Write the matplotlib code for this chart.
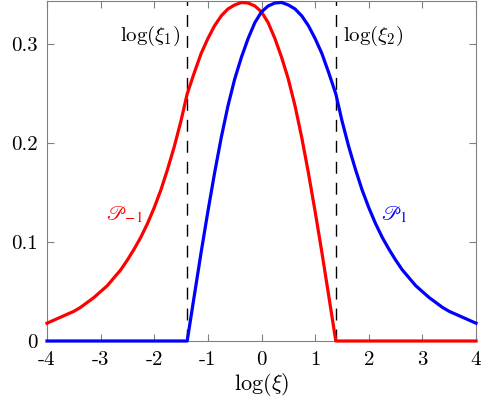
import numpy as np
import matplotlib
matplotlib.use("Agg")
import matplotlib.pyplot as plt

plt.rcParams['font.family'] = 'cmr10'
plt.rcParams['mathtext.fontset'] = 'cm'
plt.rcParams['axes.unicode_minus'] = False
plt.rcParams['axes.formatter.use_mathtext'] = True

# values
x_red = [-4.0, -3.875, -3.75, -3.625, -3.5, -3.375, -3.25, -3.125, -3.0, -2.875,
         -2.75, -2.625, -2.5, -2.375, -2.25, -2.125, -2.0, -1.875, -1.75, -1.625,
         -1.5, -1.386, -1.25, -1.125, -1.0, -0.875, -0.75, -0.625, -0.5, -0.375,
         -0.25, -0.125, 0.0, 0.125, 0.25, 0.375, 0.5, 0.625, 0.75, 0.875, 1.0,
         1.125, 1.25, 1.386, 2.0, 3.0, 4.0]
y_red = [0.018, 0.021, 0.024, 0.027, 0.030, 0.034, 0.039, 0.044, 0.050, 0.056,
         0.064, 0.072, 0.082, 0.093, 0.105, 0.119, 0.135, 0.153, 0.174, 0.197,
         0.223, 0.250, 0.272, 0.291, 0.306, 0.319, 0.329, 0.336, 0.340, 0.3425,
         0.342, 0.339, 0.333, 0.322, 0.306, 0.287, 0.265, 0.238, 0.206, 0.170, 0.131,
         0.090, 0.047, 0.0, 0.0, 0.0, 0.0]

x_blue = [-4.0, -3.0, -2.0, -1.386, -1.25, -1.125, -1.0, -0.875, -0.75, -0.625,
          -0.5, -0.375, -0.25, -0.125, 0.0, 0.125, 0.25, 0.375, 0.5, 0.625, 0.75,
          0.875, 1.0, 1.125, 1.25, 1.386, 1.5, 1.625, 1.75, 1.875, 2.0, 2.125,
          2.25, 2.375, 2.5, 2.625, 2.75, 2.875, 3.0, 3.125, 3.25, 3.375, 3.5,
          3.625, 3.75, 3.875, 4.0]
y_blue = [0.0, 0.0, 0.0, 0.0, 0.047, 0.090, 0.131, 0.170, 0.206, 0.238,
          0.265, 0.287, 0.306, 0.322, 0.333, 0.339, 0.342, 0.3425, 0.340, 0.336, 0.329,
          0.319, 0.306, 0.291, 0.272, 0.250, 0.223, 0.197, 0.174, 0.153, 0.135, 0.119,
          0.105, 0.093, 0.082, 0.072, 0.064, 0.056, 0.050, 0.044, 0.039, 0.034, 0.030,
          0.027, 0.024, 0.021, 0.018]

xi_lines = [-1.386, 1.386]
xticks = [-4, -3, -2, -1, 0, 1, 2, 3, 4]
yticks = [0, 0.1, 0.2, 0.3]
ytick_labels = ['0', '0.1', '0.2', '0.3']

fig = plt.figure(figsize=(4.84, 4.03), dpi=100)
ax = fig.add_axes([47/484, 1 - 341/403, 429/484, 340/403])

for xv in xi_lines:
    ax.plot([xv, xv], [0, 0.344], color='black', lw=1.0, dashes=(8.6, 6.5), zorder=1)

ax.plot(x_red, y_red, color='#ff0000', lw=2.3, clip_on=False, zorder=3)
ax.plot(x_blue, y_blue, color='#0000ff', lw=2.3, clip_on=False, zorder=3)

ax.set_xlim(-4, 4)
ax.set_ylim(0, 0.344)
ax.set_xticks(xticks)
ax.set_xticklabels([str(t) for t in xticks])
ax.set_yticks(yticks)
ax.set_yticklabels(ytick_labels)
ax.tick_params(direction='in', top=True, right=True, length=5, color='#808080',
               labelsize=15, pad=7)
for s in ax.spines.values():
    s.set_color('#808080')
    s.set_linewidth(0.8)

ax.set_xlabel(r'$\log(\xi)$', fontsize=16, labelpad=2)

ax.text(-1.52, 0.309, r'$\log(\xi_1)$', fontsize=15, ha='right', va='center')
ax.text(1.52, 0.309, r'$\log(\xi_2)$', fontsize=15, ha='left', va='center')
ax.text(-2.55, 0.128, r'$\mathscr{P}_{-1}$', fontsize=15, color='#ff0000',
        ha='center', va='center', math_fontfamily='stix')
ax.text(2.48, 0.128, r'$\mathscr{P}_1$', fontsize=15, color='#0000ff',
        ha='center', va='center', math_fontfamily='stix')

fig.savefig('out.png', dpi=100)
